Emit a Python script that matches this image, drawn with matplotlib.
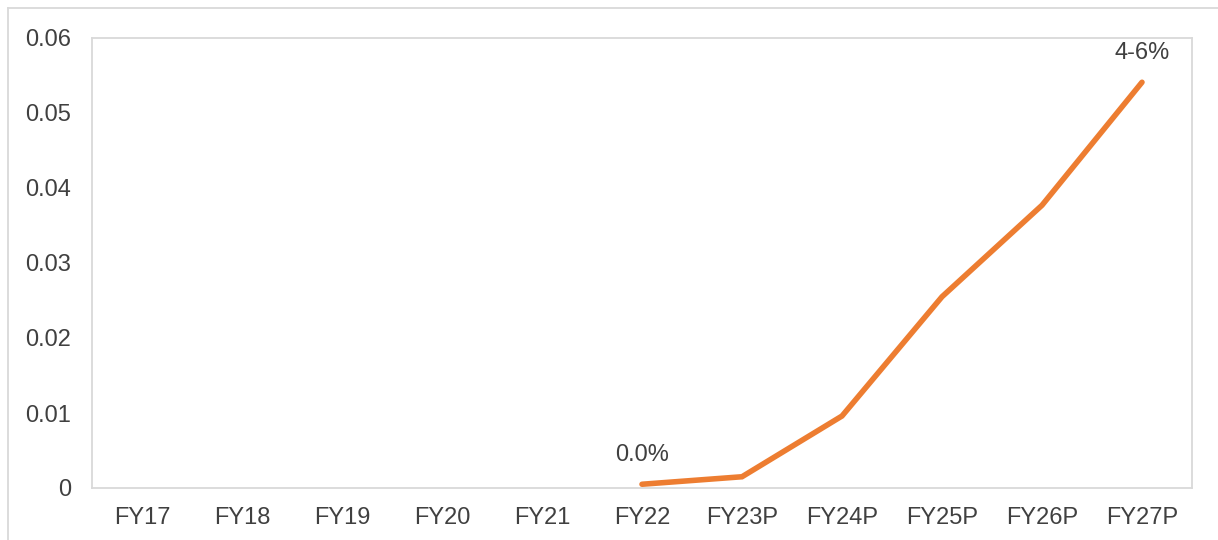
import matplotlib.pyplot as plt
from matplotlib.lines import Line2D

plt.rcParams['font.family'] = ['Liberation Sans', 'DejaVu Sans']

categories = ["FY17", "FY18", "FY19", "FY20", "FY21", "FY22",
              "FY23P", "FY24P", "FY25P", "FY26P", "FY27P"]
line_cats = ["FY22", "FY23P", "FY24P", "FY25P", "FY26P", "FY27P"]
line_vals = [0.0005, 0.0015, 0.0096, 0.0255, 0.0377, 0.0541]
annotations = {"FY22": "0.0%", "FY27P": "4-6%"}
y_ticks = [0, 0.01, 0.02, 0.03, 0.04, 0.05, 0.06]
y_tick_labels = ["0", "0.01", "0.02", "0.03", "0.04", "0.05", "0.06"]

text_color = "#404040"
grid_color = "#D9D9D9"

fig = plt.figure(figsize=(12.18, 5.4), dpi=100)
ax = fig.add_axes([92 / 1218, 1 - 488 / 540, 1100 / 1218, 450 / 540])

x_pos = {c: i for i, c in enumerate(categories)}
xs = [x_pos[c] for c in line_cats]
ax.plot(xs, line_vals, color="#ED7D31", linewidth=4.0, solid_capstyle="round",
        solid_joinstyle="miter")

for c, label in annotations.items():
    i = line_cats.index(c)
    ax.annotate(label, (x_pos[c], line_vals[i]), xytext=(0, 13),
                textcoords="offset points", ha="center", va="bottom",
                fontsize=17, color=text_color)

ax.set_xlim(-0.5, len(categories) - 0.5)
ax.set_ylim(0, 0.06)
ax.set_xticks(range(len(categories)))
ax.set_xticklabels(categories)
ax.set_yticks(y_ticks)
ax.set_yticklabels(y_tick_labels)
ax.tick_params(length=0, labelsize=17, labelcolor=text_color)
ax.tick_params(axis="x", pad=14)
ax.tick_params(axis="y", pad=15)

for s in ax.spines.values():
    s.set_color(grid_color)
    s.set_linewidth(1.3)

# outer chart border (top and left visible)
fig.add_artist(Line2D([8 / 1218, 1], [1 - 8 / 540, 1 - 8 / 540],
                      transform=fig.transFigure, color=grid_color, linewidth=1.3))
fig.add_artist(Line2D([8 / 1218, 8 / 1218], [0, 1 - 8 / 540],
                      transform=fig.transFigure, color=grid_color, linewidth=1.3))

fig.savefig("out.png", dpi=100)
